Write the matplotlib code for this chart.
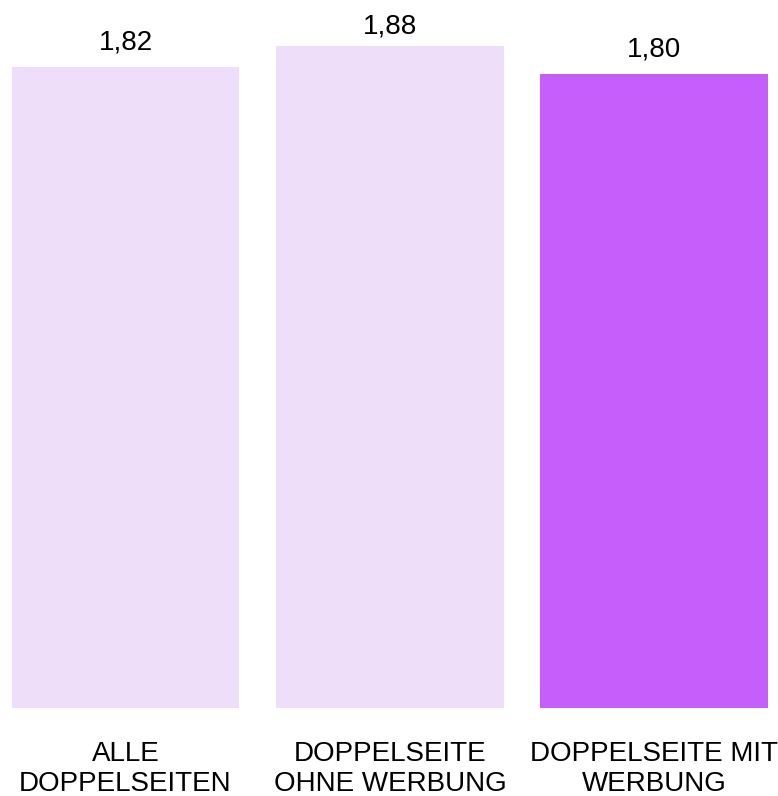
import matplotlib.pyplot as plt

# values per group
categories = ['ALLE\nDOPPELSEITEN', 'DOPPELSEITE\nOHNE WERBUNG', 'DOPPELSEITE MIT\nWERBUNG']
values = [1.82, 1.88, 1.80]
value_labels = ['1,82', '1,88', '1,80']

colors = ['#efdef9', '#efdef9', '#c65efc']
label_pad = [12, 7, 12]  # gap above bar, px

plt.rcParams['font.family'] = ['Liberation Sans', 'DejaVu Sans']

fig = plt.figure(figsize=(7.78, 7.96), dpi=100)
ax = fig.add_axes([0, 0.1106, 1, 0.8894])

x = range(len(values))
ax.bar(x, values, width=0.862, color=colors)

for i, v in enumerate(values):
    ax.annotate(value_labels[i], (i, v), xytext=(0, label_pad[i] * 0.72),
                textcoords='offset points', ha='center', va='bottom', fontsize=20)
    ax.text(i, -0.094, categories[i], ha='center', va='top', fontsize=20,
            linespacing=1.2)

ax.set_xlim(-0.4745, 2.467)
ax.set_ylim(0, 708 / 352)
ax.axis('off')

plt.savefig('out.png', dpi=100)
